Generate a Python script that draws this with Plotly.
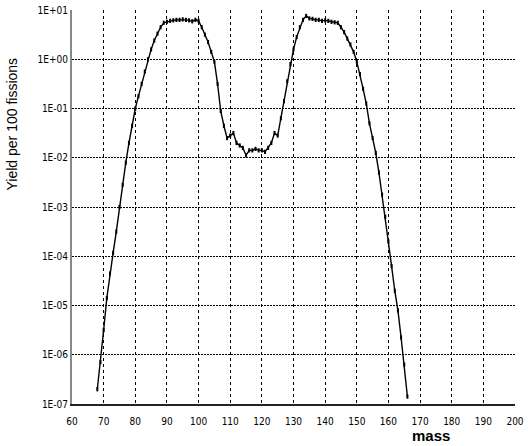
import plotly.graph_objects as go

mass = list(range(68, 167))
log_yield = [
    -6.7, -6.15, -5.5, -4.85, -4.35, -3.93, -3.5, -3.0, -2.55, -2.1,   # 68-77
    -1.7, -1.35, -1.0, -0.75, -0.5, -0.25, 0.0, 0.2, 0.38, 0.52,     # 78-87
    0.65, 0.74, 0.76, 0.78, 0.79, 0.8, 0.8, 0.81, 0.8, 0.79,         # 88-97
    0.77, 0.8, 0.78, 0.65, 0.5, 0.35, 0.15, -0.05, -0.5, -1.05,      # 98-107
    -1.35, -1.6, -1.55, -1.5, -1.7, -1.75, -1.8, -1.95, -1.85, -1.85,  # 108-117
    -1.82, -1.85, -1.85, -1.88, -1.8, -1.7, -1.5, -1.55, -1.2, -0.85,  # 118-127
    -0.45, -0.1, 0.2, 0.45, 0.65, 0.8, 0.88, 0.83, 0.82, 0.8,        # 128-137
    0.8, 0.78, 0.79, 0.78, 0.76, 0.75, 0.74, 0.65, 0.55, 0.42,       # 138-147
    0.3, 0.15, -0.05, -0.3, -0.6, -0.9, -1.3, -1.6, -1.9, -2.3,      # 148-157
    -2.75, -3.2, -3.7, -4.2, -4.7, -5.1, -5.65, -6.2, -6.85,         # 158-166
]
yield_vals = [10 ** v for v in log_yield]

y_tickvals = [1e-7, 1e-6, 1e-5, 1e-4, 1e-3, 1e-2, 1e-1, 1e0, 1e1]
y_ticktext = ["1E-07", "1E-06", "1E-05", "1E-04", "1E-03", "1E-02", "1E-01", "1E+00", "1E+01"]
x_tickvals = list(range(60, 201, 10))

fig = go.Figure()
fig.add_trace(go.Scatter(
    x=mass, y=yield_vals, mode="lines+markers",
    line=dict(color="black", width=1.4),
    marker=dict(color="black", size=3, symbol="line-ns-open", line=dict(width=2, color="black")),
    showlegend=False,
))

tickfont = dict(family="Liberation Sans Narrow, DejaVu Sans Condensed, sans-serif", size=10, color="black")

fig.update_layout(
    width=528, height=446,
    margin=dict(l=72, r=4, t=7, b=42),
    paper_bgcolor="white", plot_bgcolor="white",
    xaxis=dict(
        range=[60, 200], tickvals=x_tickvals, ticks="", tickfont=tickfont,
        ticklabeloverflow="allow", ticklabelstandoff=7,
        showgrid=True, gridcolor="black", gridwidth=1, griddash="3px,3px",
        showline=True, linecolor="#222", linewidth=2, zeroline=False,
    ),
    yaxis=dict(
        type="log", range=[-7, 1], tickvals=y_tickvals, ticktext=y_ticktext,
        ticks="", tickfont=tickfont, ticklabeloverflow="allow",
        showgrid=True, gridcolor="black", gridwidth=1, griddash="2px,1px",
        showline=True, linecolor="#888", linewidth=2, zeroline=False,
    ),
    annotations=[
        dict(text="Yield per 100 fissions", xref="paper", yref="paper",
             x=-0.135, y=0.71, xanchor="center", yanchor="middle", textangle=-90,
             showarrow=False, font=dict(family="Liberation Sans, Arial, sans-serif", size=14, color="black")),
        dict(text="<b>mass</b>", xref="paper", yref="paper",
             x=0.81, y=-0.08, xanchor="center", yanchor="middle",
             showarrow=False, font=dict(family="Liberation Sans, Arial, sans-serif", size=15, color="black")),
    ],
)

fig.write_html("out.html")
